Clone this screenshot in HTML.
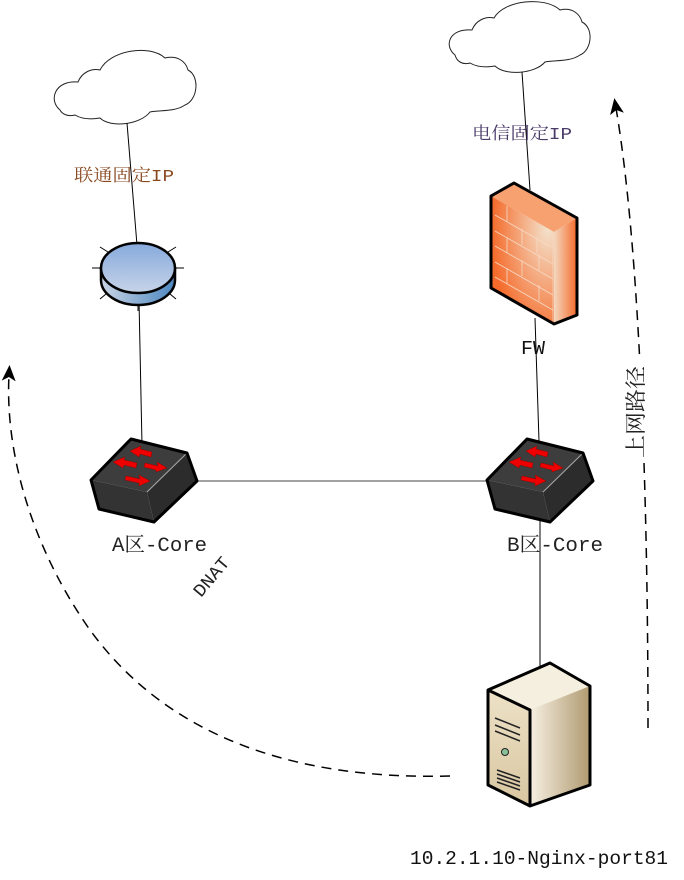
<!DOCTYPE html>
<html><head><meta charset="utf-8"><style>
html,body{margin:0;padding:0;background:#fff;}
svg{display:block;}
text{font-family:"Liberation Mono","Noto Serif CJK SC","Noto Sans CJK SC",monospace;}
</style></head><body>
<svg width="684" height="880" viewBox="0 0 684 880" xmlns="http://www.w3.org/2000/svg">
<defs>
<linearGradient id="rt" x1="0" y1="0" x2="0" y2="1"><stop offset="0" stop-color="#86a9dc"/><stop offset="1" stop-color="#c7d4e8"/></linearGradient>
<linearGradient id="rs" x1="0" y1="0" x2="1" y2="0"><stop offset="0" stop-color="#c8d4e4"/><stop offset="1" stop-color="#4d87c0"/></linearGradient>
<radialGradient id="fwf" cx="0.9" cy="0.25" r="0.9"><stop offset="0" stop-color="#f3e2cc"/><stop offset="1" stop-color="#f56a2a"/></radialGradient>
<linearGradient id="fws" x1="0" y1="0" x2="1" y2="0"><stop offset="0" stop-color="#f3d8c0"/><stop offset="1" stop-color="#f56a2a"/></linearGradient>
<linearGradient id="sv" x1="0" y1="0" x2="1" y2="0"><stop offset="0" stop-color="#f6f0e2"/><stop offset="1" stop-color="#b09a70"/></linearGradient>
<linearGradient id="svf" x1="0" y1="0" x2="0" y2="1"><stop offset="0" stop-color="#f2e8d0"/><stop offset="1" stop-color="#d8c6a0"/></linearGradient>
<marker id="ah" markerWidth="16" markerHeight="14" refX="6" refY="7" orient="auto" markerUnits="userSpaceOnUse"><path d="M0,0 L16,7 L0,14 L4,7 z" fill="#000"/></marker>
<g id="sw">
<path d="M91,480 L131,439 L187,453 L147,492 Z" fill="#3d3d3d"/>
<path d="M91,480 L147,492 L154,522 L99,509 Z" fill="#333"/>
<path d="M147,492 L187,453 L197,481 L154,522 Z" fill="#2c2c2c"/>
<path d="M147,492 L187,453" stroke="#aaa" stroke-width="1"/>
<path d="M91,480 L131,439 L187,453 L197,481 L154,522 L99,509 Z" fill="none" stroke="#000" stroke-width="3" stroke-linejoin="round"/>
<g fill="#e00" stroke="#900" stroke-width="0.5">
<path d="M152,452 L140,449 L141,446 L130,451 L139,457 L140,454 L151,457 Z"/>
<path d="M137,463 L124,460 L125,457 L113,462 L123,468 L124,465 L136,468 Z"/>
<path d="M145,463 L158,466 L157,462 L167,468 L156,472 L156,470 L144,467 Z"/>
<path d="M126,476 L140,479 L139,475 L150,481 L139,486 L139,483 L125,480 Z"/>
</g>
</g>
</defs>

<path d="M60,110 C48,100 55,80 78,82 C82,72 92,68 100,70 C110,50 150,44 165,58 C178,55 186,62 188,70 C200,76 198,100 185,105 C175,112 160,110 150,112 C140,125 110,128 100,118 C88,120 80,118 75,115 C68,117 62,114 60,110 Z" fill="#fff" stroke="#222" stroke-width="1"/>
<path d="M455,55 C443,45 450,28 472,30 C476,20 486,16 494,18 C504,0 545,-4 560,10 C572,7 580,14 582,22 C594,28 592,50 580,55 C570,62 555,60 545,62 C535,74 505,76 495,66 C483,68 475,66 470,63 C463,65 457,62 455,55 Z" fill="#fff" stroke="#222" stroke-width="1"/>

<g stroke="#000" stroke-width="1" fill="none">
<line x1="127" y1="123" x2="137" y2="245"/>
<line x1="139" y1="300" x2="142" y2="445"/>
<line x1="197" y1="481" x2="490" y2="481" stroke="#444"/>
<line x1="522" y1="72" x2="530" y2="190"/>
<line x1="535" y1="318" x2="539" y2="441"/>
<line x1="540" y1="520" x2="540" y2="668"/>
</g>

<g stroke="#000" stroke-width="1">
<line x1="100" y1="247" x2="108" y2="252"/><line x1="176" y1="247" x2="168" y2="252"/>
<line x1="92" y1="268" x2="100" y2="268"/><line x1="184" y1="268" x2="176" y2="268"/>
<line x1="100" y1="299" x2="106" y2="294"/><line x1="176" y1="299" x2="170" y2="294"/>
<line x1="138" y1="311" x2="138" y2="305"/>
</g>
<path d="M101,268 L101,280 A37,25 0 0 0 175,280 L175,268 Z" fill="url(#rs)" stroke="#000" stroke-width="2.5"/>
<ellipse cx="138" cy="268" rx="37" ry="25" fill="url(#rt)" stroke="#000" stroke-width="2.5"/>

<path d="M491,196 L514,183 L577,218 L554,232 Z" fill="#f7a070"/>
<path d="M491,196 L554,232 L554,324 L491,288 Z" fill="url(#fwf)"/>
<path d="M554,232 L577,218 L577,315 L554,324 Z" fill="url(#fws)"/>
<g stroke="#f7d9c4" stroke-width="0.8" fill="none">
<path d="M495,215 L553,248 M495,231 L553,264 M495,246 L553,279 M495,262 L553,295 M495,277 L553,310"/>
<path d="M507,206 L507,222 M522,229 L522,245 M537,237 L537,253 M507,237 L507,253 M539,254 L539,270 M522,260 L522,276 M507,268 L507,284 M539,285 L539,301 M553,232 L553,324"/>
</g>
<path d="M491,196 L514,183 L577,218 L577,315 L554,324 L491,288 Z" fill="none" stroke="#000" stroke-width="3" stroke-linejoin="round"/>

<use href="#sw"/>
<use href="#sw" transform="translate(396,0)"/>

<path d="M488,690 L550,663 L590,686 L590,785 L530,806 L488,785 Z" fill="url(#svf)"/>
<path d="M488,690 L550,663 L590,686 L530,710 Z" fill="#f5efe0"/>
<path d="M530,710 L590,686 L590,785 L530,806 Z" fill="url(#sv)"/>
<path d="M488,690 L550,663 L590,686 L590,785 L530,806 L488,785 Z M488,690 L530,710 L530,806" fill="none" stroke="#000" stroke-width="3" stroke-linejoin="round"/>
<g stroke="#222" stroke-width="1.5" fill="none">
<path d="M495,718 L520,728 M495,725 L520,735 M495,731 L520,741"/>
<path d="M497,770 L520,778 M497,774 L520,782 M497,778 L520,786 M497,782 L520,790"/>
</g>
<circle cx="505" cy="752" r="3.5" fill="#8bbf9a" stroke="#222"/>

<path d="M450,776 C300,780 170,740 90,630 C30,545 5,450 9,375" fill="none" stroke="#000" stroke-width="1.5" stroke-dasharray="10,7" marker-end="url(#ah)"/>
<path d="M648,728 C648,500 640,250 616,108" fill="none" stroke="#000" stroke-width="1.5" stroke-dasharray="10,7" marker-end="url(#ah)"/>
<rect x="620" y="360" width="30" height="100" fill="#fff"/>

<text x="74" y="181" font-size="17" fill="#8a4a20" textLength="100" lengthAdjust="spacingAndGlyphs">联通固定IP</text>
<text x="472" y="139" font-size="17" fill="#4a3a6a" textLength="100" lengthAdjust="spacingAndGlyphs">电信固定IP</text>
<text x="521" y="354" font-size="19" fill="#111" textLength="24" lengthAdjust="spacingAndGlyphs">FW</text>
<text x="112" y="551" font-size="20" fill="#222" textLength="95" lengthAdjust="spacingAndGlyphs">A区-Core</text>
<text x="507" y="551" font-size="20" fill="#222" textLength="96" lengthAdjust="spacingAndGlyphs">B区-Core</text>
<text x="0" y="0" font-size="18" fill="#222" transform="translate(201,598) rotate(-50)" textLength="46" lengthAdjust="spacingAndGlyphs">DNAT</text>
<text x="0" y="0" font-size="21" fill="#222" transform="translate(643,458) rotate(-90)" textLength="92" lengthAdjust="spacingAndGlyphs">上网路径</text>
<text x="410" y="864" font-size="19" fill="#111" textLength="258" lengthAdjust="spacingAndGlyphs">10.2.1.10-Nginx-port81</text>
</svg>
</body></html>
